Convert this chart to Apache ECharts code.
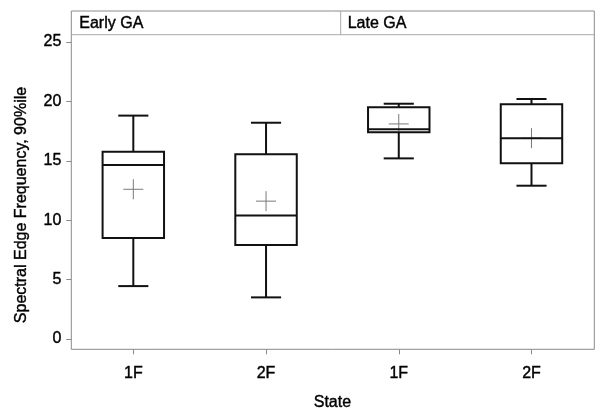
<!DOCTYPE html>
<html><head><meta charset="utf-8">
<script src="https://cdn.jsdelivr.net/npm/echarts@6/dist/echarts.min.js"></script>
<style>html,body{margin:0;padding:0;background:#fff}#c{width:600px;height:417px}</style>
</head><body><div id="c"></div>
<script>
// ---- data ----
const panels = ['Early GA', 'Late GA'];
const states = ['1F', '2F', '1F', '2F'];
const whiskerLow  = [4.45, 3.5, 15.2, 12.9];
const q1          = [8.5, 7.9, 17.4, 14.8];
const median      = [14.65, 10.4, 17.65, 16.9];
const q3          = [15.75, 15.55, 19.5, 19.75];
const whiskerHigh = [18.8, 18.2, 19.8, 20.2];
const mean        = [12.6, 11.6, 18.1, 16.9];
const yTicks = [0, 5, 10, 15, 20, 25];
const yTitle = 'Spectral Edge Frequency, 90%ile';
const xTitle = 'State';

// ---- chart ----
const FONT = '"Liberation Sans", Arial, sans-serif';
const TXT = {fontFamily: FONT, color: '#000', textBorderColor: '#000', textBorderWidth: 0.4};
const frameColor = '#8a8a8a';
const rows = states.map((s, i) => [i, whiskerLow[i], q1[i], median[i], q3[i], whiskerHigh[i], mean[i]]);

const chart = echarts.init(document.getElementById('c'), null, {renderer: 'canvas'});
const L = 71.3, R = 594.3, T = 11, HB = 34.7, B = 349.3, DIV = 340.7;
const gtxt = (extra) => Object.assign({fontFamily: FONT, fill: '#000', stroke: '#000', lineWidth: 0.4}, extra);

chart.setOption({
  animation: false,
  backgroundColor: '#fff',
  grid: {left: 66.95, right: 2.15, top: HB, bottom: 417 - B, containLabel: false},
  xAxis: {
    type: 'category',
    data: states,
    boundaryGap: true,
    axisLine: {show: false, onZero: false},
    axisTick: {show: true, alignWithLabel: true, length: 5, lineStyle: {color: frameColor, width: 1}},
    axisLabel: Object.assign({margin: 16, fontSize: 16}, TXT),
    name: xTitle,
    nameLocation: 'middle',
    nameGap: 45,
    nameTextStyle: Object.assign({fontSize: 16}, TXT)
  },
  yAxis: {
    type: 'value',
    min: -0.87,
    max: 25.61,
    offset: -4.35,
    axisLine: {show: false, onZero: false},
    splitLine: {show: false},
    axisTick: {show: true, length: 5, customValues: yTicks, lineStyle: {color: frameColor, width: 1}},
    axisLabel: Object.assign({margin: 10, customValues: yTicks, fontSize: 16}, TXT)
  },
  graphic: [
    {type: 'rect', silent: true, z: 10, shape: {x: L, y: T, width: R - L, height: B - T},
      style: {fill: 'rgba(0,0,0,0)', stroke: frameColor, lineWidth: 1}},
    {type: 'line', silent: true, z: 10, shape: {x1: L, y1: HB, x2: R, y2: HB}, style: {stroke: '#a8a8a8', lineWidth: 1}},
    {type: 'line', silent: true, z: 10, shape: {x1: DIV, y1: T, x2: DIV, y2: HB}, style: {stroke: '#a8a8a8', lineWidth: 1}},
    {type: 'text', silent: true, z: 10, x: L + 8, y: (T + HB) / 2 + 1,
      style: gtxt({text: panels[0], fontSize: 16, verticalAlign: 'middle', align: 'left'})},
    {type: 'text', silent: true, z: 10, x: DIV + 7, y: (T + HB) / 2 + 1,
      style: gtxt({text: panels[1], fontSize: 16, verticalAlign: 'middle', align: 'left'})},
    {type: 'text', silent: true, z: 10, x: 22, y: 205, rotation: Math.PI / 2,
      style: gtxt({text: yTitle, fontSize: 16, verticalAlign: 'middle', align: 'center'})}
  ],
  series: [{
    type: 'custom',
    data: rows,
    encode: {x: 0, y: [1, 2, 3, 4, 5, 6]},
    renderItem: function (params, api) {
      const i = api.value(0);
      const band = api.size([1, 0])[0];
      const bw = band * 0.463;
      const cw = bw * 0.49;
      const cx = api.coord([i, 0])[0];
      const y = v => api.coord([i, v])[1];
      const yMin = y(api.value(1)), yQ1 = y(api.value(2)), yMed = y(api.value(3)),
            yQ3 = y(api.value(4)), yMax = y(api.value(5)), yMean = y(api.value(6));
      const thick = {stroke: '#111', lineWidth: 2};
      const thin = {stroke: '#7a7a7a', lineWidth: 1};
      const mk = (x1, y1, x2, y2, st) => ({type: 'line', shape: {x1, y1, x2, y2}, style: st});
      return {type: 'group', children: [
        mk(cx - 10, yMean, cx + 10, yMean, thin),
        mk(cx, yMean - 10, cx, yMean + 10, thin),
        {type: 'rect', shape: {x: cx - bw / 2, y: yQ3, width: bw, height: yQ1 - yQ3},
          style: {stroke: '#111', lineWidth: 2, fill: 'rgba(0,0,0,0)'}},
        mk(cx - bw / 2, yMed, cx + bw / 2, yMed, thick),
        mk(cx, yQ3, cx, yMax, thick),
        mk(cx, yQ1, cx, yMin, thick),
        mk(cx - cw / 2, yMax, cx + cw / 2, yMax, thick),
        mk(cx - cw / 2, yMin, cx + cw / 2, yMin, thick)
      ]};
    }
  }]
});
</script>
</body></html>
